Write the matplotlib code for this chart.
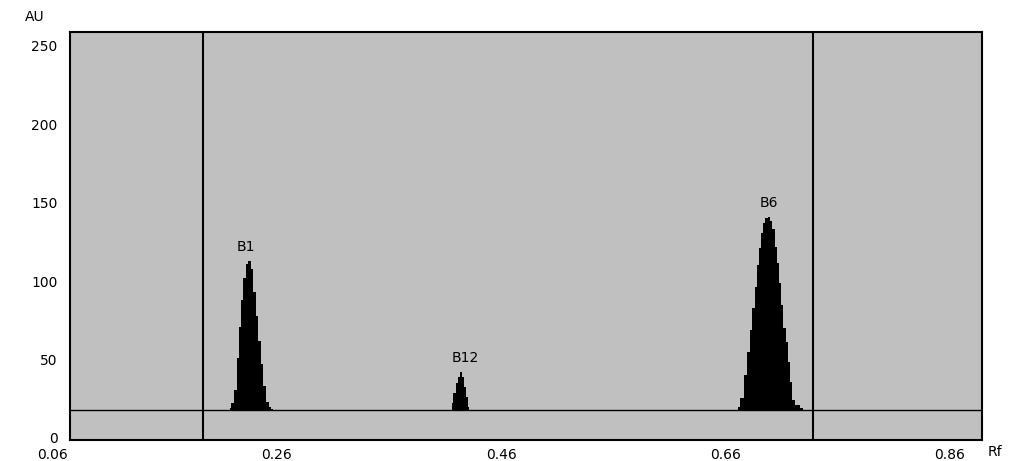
import matplotlib
matplotlib.use("Agg")
import matplotlib.pyplot as plt
import matplotlib.transforms as mtransforms

# densitogram data (Rf, AU)
b1_rf = [0.2182, 0.2208, 0.2231, 0.2253, 0.2275, 0.2293, 0.2311, 0.2333, 0.2356,
         0.2378, 0.2400, 0.2422, 0.2445, 0.2467, 0.2489, 0.2512, 0.2538, 0.2565]
b1_au = [19.1, 22.3, 30.6, 51, 70.8, 88, 102, 111, 113,
         108, 93, 78, 62, 47, 33, 23, 19.5, 18.5]

b12_rf = [0.4157, 0.4183, 0.4206, 0.4224, 0.4241, 0.4255, 0.4273, 0.4295, 0.4317]
b12_au = [22, 28.7, 35, 39, 42.3, 39, 32.5, 26, 20]

b6_rf = [0.6714, 0.6750, 0.6783, 0.6807, 0.6827, 0.6848, 0.6869, 0.6887, 0.6908,
         0.6928, 0.6946, 0.6967, 0.6988, 0.7006, 0.7026, 0.7048, 0.7065, 0.7086,
         0.7106, 0.7124, 0.7146, 0.7166, 0.7184, 0.7208, 0.7240, 0.7294]
b6_au = [20, 25.5, 40, 55, 69, 83, 96, 110, 121,
         131, 137, 140, 141, 138.5, 133, 122, 111.6, 99,
         85, 70, 61, 48.5, 35.7, 24, 21, 19]

peak_names = ["B1", "B12", "B6"]
peak_rf = [0.2356, 0.4241, 0.6988]
peak_au = [113, 42.3, 141]

baseline = 17.9
start_line = 0.1941
front_line = 0.738

x_ticks = [0.06, 0.26, 0.46, 0.66, 0.86]
y_ticks = [0, 50, 100, 150, 200, 250]

plt.rcParams['font.family'] = ['DejaVu Sans']
fs = 10

fig = plt.figure(figsize=(10.16, 4.61), dpi=100)
ax = fig.add_axes([70/1016, 21/461, 912/1016, 408/461])
ax.set_facecolor("#c0c0c0")

for rf, au in [(b1_rf, b1_au), (b12_rf, b12_au), (b6_rf, b6_au)]:
    ax.fill_between(rf, baseline, au, step="mid", color="black", linewidth=0)

ax.axhline(baseline, color="black", linewidth=1)
ax.axvline(start_line, color="black", linewidth=1.5)
ax.axvline(front_line, color="black", linewidth=1.5)

# peak labels
offs = [-3, 3, 0]
for name, rf, au, dx in zip(peak_names, peak_rf, peak_au, offs):
    ax.annotate(name, xy=(rf, au), xytext=(dx, 10), textcoords="offset points",
                ha="center", va="center", fontsize=fs)

ax.set_xlim(0.0755, 0.8887)
ax.set_ylim(-1.3, 258.9)

ax.set_yticks(y_ticks)
ax.set_yticklabels([str(v) for v in y_ticks], fontsize=fs)
ax.tick_params(axis="y", length=0, pad=9)
ax.get_yticklabels()[0].set_y(1.5)

# x tick labels: the first one sits left of the plot edge, so draw as text
ax.set_xticks([])
trans = mtransforms.blended_transform_factory(ax.transData, ax.transAxes)
for t in x_ticks:
    ax.text(t, -0.037, f"{t:.2f}", transform=trans, ha="center", va="center",
            fontsize=fs, clip_on=False)

for s in ax.spines.values():
    s.set_color("black")
    s.set_linewidth(1.5)

fig.text(35/1016, 1 - 17/461, "AU", ha="center", va="center", fontsize=fs)
fig.text(995/1016, 1 - 452/461, "Rf", ha="center", va="center", fontsize=fs)

fig.savefig("out.png", dpi=100)
